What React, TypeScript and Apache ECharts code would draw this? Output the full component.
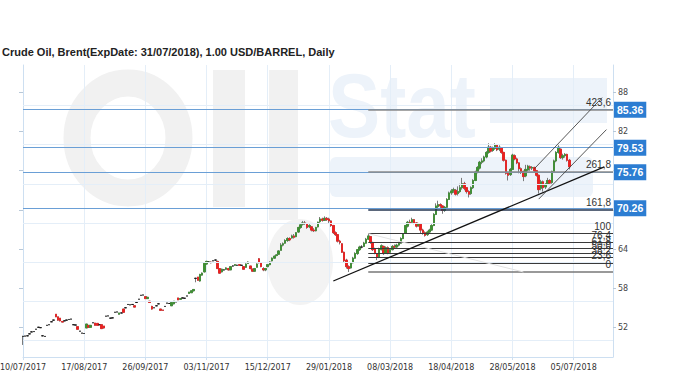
import { useEffect, useRef } from 'react';
import * as echarts from 'echarts';

const TITLE = 'Crude Oil, Brent(ExpDate: 31/07/2018), 1.00 USD/BARREL, Daily';

// x-axis label dates (one every BARS_PER_LABEL trading days)
const labelDates = [
  '10/07/2017', '17/08/2017', '26/09/2017', '03/11/2017', '15/12/2017',
  '29/01/2018', '08/03/2018', '18/04/2018', '28/05/2018', '05/07/2018',
];
const BARS_PER_LABEL = 28;
const CATEGORY_COUNT = 271;

// daily candles: [open, close, low, high]
const ohlc: number[][] = [
  [50.6, 50.6, 49.3, 50.7], [50.65, 50.65, 50.65, 50.65], [50.7, 50.7, 50.7, 50.7], [51.0, 51.0, 51.0, 51.0],
  [51.3, 51.3, 51.3, 51.3], [51.35, 51.35, 51.35, 51.35], [51.7, 51.7, 51.7, 51.7], [52.0, 52.0, 52.0, 52.0],
  [51.95, 51.95, 51.95, 51.95], [50.7, 50.7, 50.7, 50.7], [50.6, 50.6, 50.6, 50.6], [52.3, 52.3, 52.3, 52.3],
  [52.4, 52.4, 52.4, 52.4], [52.85, 52.85, 52.85, 52.85], [53.1, 53.1, 53.1, 53.1], [54.0, 53.6, 53.6, 54.0],
  [53.6, 53.1, 53.0, 53.6], [53.4, 53.0, 52.9, 53.4], [52.9, 52.8, 52.8, 52.9], [53.0, 53.0, 53.0, 53.0],
  [53.1, 53.1, 53.1, 53.1], [53.2, 53.2, 53.2, 53.2], [53.25, 53.25, 53.25, 53.25], [52.4, 52.4, 52.4, 52.4],
  [52.35, 52.35, 52.35, 52.35], [52.1, 51.7, 51.7, 52.1], [51.4, 51.4, 51.4, 51.4], [51.1, 51.1, 51.1, 51.1],
  [51.05, 51.05, 51.05, 51.05], [51.9, 52.5, 51.9, 52.5], [52.3, 52.0, 51.9, 52.3], [52.0, 52.3, 52.0, 52.3],
  [52.7, 52.7, 52.7, 52.7], [52.65, 52.3, 52.3, 52.65], [52.6, 52.3, 52.3, 52.6], [52.4, 52.4, 52.4, 52.4],
  [52.4, 51.8, 51.8, 52.4], [52.2, 51.9, 51.8, 52.2], [53.7, 53.7, 53.7, 53.7], [53.75, 53.75, 53.75, 53.75],
  [53.4, 53.4, 53.4, 53.4], [53.45, 53.45, 53.45, 53.45], [54.3, 54.3, 54.3, 54.3], [54.35, 54.35, 54.35, 54.35],
  [54.0, 54.2, 54.0, 54.2], [54.2, 54.2, 54.2, 54.2], [54.8, 54.3, 54.3, 54.8], [55.0, 55.0, 55.0, 55.0],
  [55.5, 55.5, 55.5, 55.5], [55.45, 55.45, 55.45, 55.45], [55.5, 55.5, 55.5, 55.5], [55.3, 55.1, 55.1, 55.3],
  [55.8, 55.8, 55.8, 55.8], [56.3, 56.3, 56.3, 56.3], [56.9, 56.9, 56.9, 56.9], [56.95, 56.95, 56.95, 56.95],
  [56.7, 56.4, 56.4, 56.7], [56.4, 56.6, 56.4, 56.6], [56.0, 55.8, 55.8, 56.0], [55.2, 54.8, 54.7, 55.3],
  [55.0, 55.0, 55.0, 55.0], [55.3, 55.3, 55.3, 55.3], [55.6, 55.6, 55.6, 55.6], [54.8, 54.6, 54.6, 54.8],
  [54.65, 54.6, 54.6, 54.65], [55.2, 55.2, 55.2, 55.2], [55.7, 55.7, 55.7, 55.7], [55.65, 55.65, 55.65, 55.65],
  [55.3, 55.8, 55.3, 55.8], [55.6, 56.0, 55.5, 56.0], [55.9, 55.9, 55.9, 55.9], [56.5, 56.2, 56.2, 56.5],
  [56.3, 56.4, 56.2, 56.5], [56.5, 56.5, 56.5, 56.5], [56.45, 56.45, 56.45, 56.45], [56.8, 56.8, 56.8, 56.8],
  [57.2, 57.4, 57.2, 57.4], [57.3, 57.6, 57.3, 57.6], [57.6, 57.8, 57.5, 57.8], [59.5, 59.5, 58.9, 59.6],
  [59.7, 59.2, 59.2, 59.7], [59.1, 60.1, 59.0, 60.2], [60.0, 60.3, 59.9, 60.4], [60.5, 61.8, 60.4, 61.9],
  [61.7, 62.1, 61.6, 62.2], [62.0, 62.0, 61.9, 62.1], [62.0, 61.9, 61.8, 62.1], [62.2, 62.2, 62.2, 62.2],
  [62.3, 62.3, 62.2, 62.4], [62.1, 61.0, 61.0, 62.2], [61.0, 60.3, 60.2, 61.0], [60.5, 60.9, 60.4, 61.0],
  [60.8, 60.8, 60.7, 60.9], [60.9, 61.1, 60.8, 61.2], [61.0, 60.8, 60.7, 61.1], [60.8, 61.3, 60.8, 61.4],
  [61.4, 61.4, 61.3, 61.5], [61.5, 61.6, 61.4, 61.7], [61.5, 61.5, 61.4, 61.6], [61.6, 61.5, 61.4, 61.7],
  [61.5, 61.5, 61.5, 61.5], [61.3, 60.9, 60.9, 61.3], [61.2, 61.7, 61.1, 61.8], [61.8, 62.0, 61.7, 62.1],
  [61.4, 61.0, 60.9, 61.4], [60.9, 60.6, 60.5, 61.0], [60.6, 61.0, 60.5, 61.1], [61.2, 61.7, 61.2, 61.8],
  [62.5, 61.9, 61.8, 62.6], [61.9, 61.3, 61.2, 62.0], [61.0, 60.8, 60.6, 61.2], [60.8, 61.0, 60.6, 61.1],
  [61.3, 61.6, 61.2, 61.7], [61.6, 62.0, 61.5, 62.1], [62.2, 62.6, 62.1, 62.7], [62.6, 62.9, 62.5, 63.0],
  [63.0, 63.1, 62.9, 63.2], [63.2, 63.7, 63.1, 63.8], [63.8, 64.6, 63.8, 64.9], [64.6, 64.8, 64.4, 65.0],
  [64.9, 65.3, 64.8, 65.5], [65.3, 65.6, 65.1, 65.8], [65.6, 65.4, 65.2, 65.8], [65.7, 66.0, 65.6, 66.2],
  [66.0, 65.8, 65.6, 66.3], [65.9, 66.5, 65.8, 66.6], [66.6, 67.3, 66.5, 67.4], [67.3, 67.7, 67.1, 67.9],
  [67.8, 68.0, 67.6, 68.3], [68.0, 67.9, 67.7, 68.3], [67.9, 67.3, 67.1, 68.0], [67.4, 67.6, 67.2, 67.8],
  [67.4, 66.9, 66.7, 67.5], [66.9, 66.8, 66.6, 67.2], [66.8, 67.3, 66.7, 67.4], [67.4, 68.1, 67.3, 68.2],
  [68.2, 68.6, 68.0, 68.9], [68.6, 68.4, 68.2, 68.8], [68.4, 68.7, 68.3, 69.0], [68.7, 68.5, 68.3, 68.9],
  [68.6, 68.3, 68.0, 68.8], [68.3, 67.6, 67.4, 68.4], [67.6, 66.5, 66.3, 67.7], [66.5, 66.2, 66.0, 66.7],
  [66.2, 65.2, 65.0, 66.3], [65.2, 65.0, 64.7, 65.4], [64.8, 63.5, 63.4, 64.9], [63.5, 62.2, 62.0, 63.6],
  [62.3, 61.3, 61.0, 62.5], [61.3, 61.0, 60.48, 61.5], [61.1, 61.8, 61.0, 62.0], [61.9, 62.6, 61.8, 62.8],
  [62.6, 63.3, 62.5, 63.5], [63.3, 63.9, 63.1, 64.0], [63.9, 64.3, 63.7, 64.5], [64.3, 64.3, 64.1, 64.6],
  [64.4, 64.9, 64.3, 65.1], [64.9, 65.5, 64.8, 65.7], [65.5, 66.0, 65.4, 66.36], [65.9, 65.0, 64.8, 66.0],
  [65.0, 63.9, 63.7, 65.1], [64.0, 63.4, 63.2, 64.2], [63.3, 62.7, 62.3, 63.4], [62.8, 64.0, 62.6, 64.2],
  [63.9, 64.5, 63.8, 64.7], [64.4, 63.3, 63.1, 64.5], [63.4, 64.2, 63.3, 64.4], [64.2, 63.4, 63.2, 64.4],
  [63.5, 63.9, 63.3, 64.1], [63.9, 64.4, 63.8, 64.6], [64.4, 64.3, 64.1, 64.7], [64.3, 64.6, 64.2, 64.8],
  [64.6, 64.9, 64.4, 65.1], [64.9, 65.6, 64.8, 65.8], [65.6, 66.3, 65.5, 66.4], [66.4, 67.6, 66.3, 67.7],
  [67.5, 68.1, 67.3, 68.3], [68.1, 68.0, 67.8, 68.5], [68.1, 68.5, 67.9, 68.8], [68.5, 68.0, 67.8, 68.6],
  [68.0, 67.5, 67.3, 68.1], [67.6, 67.8, 67.4, 68.0], [67.8, 66.9, 66.3, 67.9], [66.9, 66.5, 66.2, 67.1],
  [66.5, 66.1, 65.9, 66.7], [66.2, 66.6, 66.0, 66.8], [66.6, 66.9, 66.4, 67.1], [66.9, 67.6, 66.8, 67.8],
  [67.6, 69.3, 67.5, 69.5], [69.3, 70.6, 69.2, 71.0], [70.5, 70.8, 70.1, 71.4], [70.8, 70.6, 70.2, 71.0],
  [70.6, 69.9, 69.4, 70.7], [69.9, 70.4, 69.7, 70.6], [70.4, 71.6, 70.3, 71.8], [71.6, 72.6, 71.5, 72.8],
  [72.6, 72.9, 72.3, 73.2], [72.9, 73.1, 72.6, 73.4], [73.0, 72.4, 72.2, 73.2], [72.5, 72.8, 72.2, 73.6],
  [72.8, 73.4, 72.6, 74.0], [73.4, 74.0, 73.1, 74.9], [74.0, 73.3, 73.0, 74.3], [73.4, 72.8, 72.5, 73.5],
  [72.8, 72.4, 71.9, 73.0], [72.5, 73.4, 72.3, 73.6], [73.4, 74.5, 73.2, 74.7], [74.5, 75.8, 74.4, 76.0],
  [75.8, 76.5, 75.6, 76.7], [76.4, 77.3, 76.2, 77.5], [77.3, 77.5, 77.0, 77.9], [77.5, 78.1, 77.3, 78.3],
  [78.1, 78.8, 77.9, 79.0], [78.8, 79.6, 78.6, 80.2], [79.6, 79.0, 78.8, 79.8], [79.1, 79.5, 78.9, 79.7],
  [79.4, 79.9, 79.2, 80.2], [79.9, 79.2, 79.0, 80.1], [79.3, 79.6, 79.0, 79.9], [79.5, 78.8, 78.6, 79.6],
  [78.8, 77.6, 77.4, 78.9], [77.6, 75.6, 75.4, 77.7], [75.6, 75.3, 74.5, 75.8], [75.4, 76.2, 75.2, 76.4],
  [76.2, 78.4, 76.1, 78.6], [78.3, 77.8, 77.6, 78.5], [77.8, 77.2, 77.0, 78.0], [77.2, 76.3, 75.6, 77.3],
  [76.3, 75.9, 75.5, 76.5], [75.9, 75.1, 74.4, 76.0], [75.2, 76.2, 75.0, 76.9], [76.1, 76.7, 75.9, 76.9],
  [76.6, 76.4, 76.0, 76.8], [76.4, 76.5, 76.1, 76.7], [76.5, 76.0, 75.8, 76.6], [76.0, 75.3, 75.1, 76.1],
  [75.3, 73.1, 72.5, 75.4], [73.3, 74.3, 73.0, 74.6], [74.3, 73.4, 72.8, 74.5], [73.5, 73.9, 73.2, 74.1],
  [74.0, 74.5, 73.8, 74.9], [74.5, 74.1, 73.9, 74.7], [74.2, 75.9, 74.0, 76.0], [75.9, 77.5, 75.8, 77.7],
  [77.5, 78.8, 77.3, 79.0], [78.8, 79.6, 78.6, 79.9], [79.3, 78.0, 77.8, 79.4], [78.0, 78.3, 77.7, 78.6],
  [78.3, 78.5, 78.0, 78.7], [78.5, 77.6, 77.4, 78.6], [77.6, 76.6, 76.2, 77.8],
];

// value axis
const Y_MIN = 47.45;
const Y_MAX = 92.2;
const yTickValues = [52, 58, 64, 70, 76, 82, 88];
const yGridValues = [50, 56, 62, 68, 74, 80, 86];

// horizontal support/resistance levels (blue, labelled on the right)
const levelValues = [85.36, 79.53, 75.76, 70.26];

// Fibonacci retracement / extension
const fibRatios = [423.6, 261.8, 161.8, 100, 76.4, 61.8, 50, 38.2, 23.6, 0];
const fibLabels = ['423,6', '261,8', '161,8', '100', '76,4', '61,8', '50,0', '38,2', '23,6', '0'];
const FIB_LOW = 60.48;
const FIB_HIGH = 66.36;
const FIB_START = 158;
const FIB_DIAG_END = 229;

// trend lines: [[index, price], [index, price]]
const trendLine = [[142, 59.1], [266, 76.6]];
const channelUpper = [[234, 76.3], [265, 87.2]];
const channelLower = [[236, 71.65], [267, 82.3]];

const pad = (n: number) => (n < 10 ? '0' + n : '' + n);
function buildCategories(): string[] {
  const out: string[] = [];
  const parse = (s: string) => {
    const [d, m, y] = s.split('/').map(Number);
    return Date.UTC(y, m - 1, d);
  };
  const fmt = (t: number) => {
    const dt = new Date(t);
    return pad(dt.getUTCDate()) + '/' + pad(dt.getUTCMonth() + 1) + '/' + dt.getUTCFullYear();
  };
  for (let k = 0; k < labelDates.length; k++) {
    let t = parse(labelDates[k]);
    const n = k < labelDates.length - 1 ? BARS_PER_LABEL : CATEGORY_COUNT - out.length;
    for (let i = 0; i < n; i++) {
      out.push(fmt(t));
      do {
        t += 86400000;
      } while ([0, 6].includes(new Date(t).getUTCDay()));
    }
  }
  return out;
}

const GRID_COLOR = '#e4eef8';
const AXIS_COLOR = '#cddff1';
const BLUE_LINE = '#6a9fd6';
const BOX_BLUE = '#2c7dd2';
const UP = '#3d9132';
const DOWN = '#ee1f1f';
const LAST_INDEX = CATEGORY_COUNT - 1;

export default function App() {
  const ref = useRef<HTMLDivElement>(null);

  useEffect(() => {
    if (!ref.current) return;
    const chart = echarts.init(ref.current, null, { renderer: 'svg' });
    const categories = buildCategories();

    const wickData = ohlc.map((d) => [d[0], d[1], d[2], d[3]]);
    const bodyData = ohlc.map((d) => [d[0], d[1], Math.min(d[0], d[1]), Math.max(d[0], d[1])]);

    const gridLines = yGridValues.map((v) => [
      { coord: [0, v], lineStyle: { color: GRID_COLOR, width: 1, type: 'solid' }, label: { show: false } },
      { coord: [LAST_INDEX, v] },
    ]);

    const blueLines = levelValues.map((v) => [
      {
        coord: [0, v],
        lineStyle: { color: BLUE_LINE, width: 1, type: 'solid' },
        label: {
          show: true,
          position: 'end',
          distance: 1,
          formatter: v.toFixed(2),
          color: '#ffffff',
          backgroundColor: BOX_BLUE,
          padding: [3, 3, 2, 3],
          fontSize: 10.5,
          lineHeight: 11,
          fontWeight: 'bold',
          fontFamily: 'Liberation Sans',
        },
      },
      { coord: [LAST_INDEX, v] },
    ]);

    const fibLines = fibRatios.map((r, i) => {
      const v = FIB_LOW + (r / 100) * (FIB_HIGH - FIB_LOW);
      const ext = r > 100;
      return [
        {
          coord: [FIB_START, v],
          lineStyle: {
            color: r === 0 ? '#777777' : ext ? (r === 161.8 ? '#24344f' : '#8a8a8a') : '#3a3a3a',
            width: r === 0 ? 1.6 : ext ? 1.5 : 1.1,
            type: 'solid',
          },
          label: {
            show: true,
            position: 'insideEndTop',
            distance: 2,
            formatter: fibLabels[i],
            color: '#333333',
            fontSize: 10,
            fontFamily: 'Liberation Sans',
          },
        },
        { coord: [LAST_INDEX, v] },
      ];
    });

    const fibDiag = [
      { coord: [FIB_START, FIB_HIGH], lineStyle: { color: '#e2e2e2', width: 1, type: 'solid' }, label: { show: false } },
      { coord: [FIB_DIAG_END, FIB_LOW] },
    ];

    const trendLines = [
      [{ coord: trendLine[0], lineStyle: { color: '#111111', width: 1.3, type: 'solid' }, label: { show: false } }, { coord: trendLine[1] }],
      [{ coord: channelUpper[0], lineStyle: { color: '#444444', width: 0.9, type: 'solid' }, label: { show: false } }, { coord: channelUpper[1] }],
      [{ coord: channelLower[0], lineStyle: { color: '#444444', width: 0.9, type: 'solid' }, label: { show: false } }, { coord: channelLower[1] }],
    ];

    const wmGray = '#f1f1f1';
    const wmBlue = '#edf3fa';

    chart.setOption({
      animation: false,
      backgroundColor: '#ffffff',
      grid: { left: 23, right: 67, top: 65, bottom: 23, containLabel: false, outerBoundsMode: 'none' },
      graphic: {
        elements: [
          { type: 'ellipse', z: -10, silent: true, shape: { cx: 128, cy: 138, rx: 51, ry: 55 }, style: { fill: 'none', stroke: wmGray, lineWidth: 27 } },
          { type: 'rect', z: -10, silent: true, shape: { x: 213, y: 70, width: 32, height: 137 }, style: { fill: wmGray } },
          { type: 'rect', z: -10, silent: true, shape: { x: 269, y: 70, width: 29, height: 150 }, style: { fill: wmGray } },
          { type: 'ellipse', z: -10, silent: true, shape: { cx: 300, cy: 262, rx: 33, ry: 43 }, style: { fill: '#f3f3f3' } },
          {
            type: 'text', z: -10, silent: true, x: 328, y: 106, scaleX: 0.87,
            style: { text: 'Stat', fill: wmBlue, font: 'bold 90px "Liberation Sans"', verticalAlign: 'middle', align: 'left' },
          },
          { type: 'rect', z: -10, silent: true, shape: { x: 490, y: 78, width: 117, height: 45 }, style: { fill: wmBlue } },
          { type: 'rect', z: -10, silent: true, shape: { x: 330, y: 157, width: 263, height: 40, r: 6 }, style: { fill: wmBlue } },
          {
            type: 'text', z: 10, silent: true, x: 2, y: 52,
            style: { text: TITLE, fill: '#222222', font: 'bold 11px "Liberation Sans"', verticalAlign: 'middle', align: 'left' },
          },
        ],
      },
      xAxis: {
        type: 'category',
        data: categories,
        boundaryGap: false,
        axisLine: { show: true, lineStyle: { color: AXIS_COLOR, width: 1 } },
        axisTick: { show: true, interval: BARS_PER_LABEL - 1, length: 3, lineStyle: { color: AXIS_COLOR } },
        axisLabel: {
          interval: BARS_PER_LABEL - 1,
          color: '#333333',
          fontSize: 8,
          fontFamily: 'DejaVu Sans',
          margin: 6,
        },
        splitLine: { show: true, interval: BARS_PER_LABEL - 1, lineStyle: { color: GRID_COLOR, width: 1 } },
      },
      yAxis: [
        {
          type: 'value',
          position: 'right',
          min: Y_MIN,
          max: Y_MAX,
          scale: true,
          axisLine: { show: true, lineStyle: { color: AXIS_COLOR } },
          axisTick: { show: true, customValues: yTickValues, length: 3, lineStyle: { color: '#b8c8d8' } },
          axisLabel: { customValues: yTickValues, color: '#444444', fontSize: 8, fontFamily: 'DejaVu Sans', margin: 5 },
          splitLine: { show: false },
        },
        {
          type: 'value',
          position: 'left',
          min: Y_MIN,
          max: Y_MAX,
          scale: true,
          axisLine: { show: true, onZero: false, lineStyle: { color: AXIS_COLOR } },
          axisTick: { show: true, customValues: yTickValues, length: 4, lineStyle: { color: '#b8c8d8' } },
          axisLabel: { show: false, customValues: yTickValues },
          splitLine: { show: false },
        },
      ],
      series: [
        {
          name: 'grid',
          type: 'line',
          data: [],
          z: 1,
          silent: true,
          markLine: { silent: true, symbol: 'none', animation: false, data: gridLines },
        },
        {
          name: 'levels',
          type: 'line',
          data: [],
          z: 2,
          silent: true,
          markLine: { silent: true, symbol: 'none', animation: false, data: [...blueLines, ...fibLines, fibDiag] },
        },
        {
          name: 'wick',
          type: 'candlestick',
          data: wickData,
          z: 3,
          silent: true,
          barWidth: 2,
          itemStyle: {
            color: '#7a7a7a', color0: '#7a7a7a', borderColor: '#7a7a7a', borderColor0: '#7a7a7a',
            borderColorDoji: '#7a7a7a', borderWidth: 1,
          },
        },
        {
          name: 'body',
          type: 'candlestick',
          data: bodyData,
          z: 4,
          silent: true,
          barWidth: 2,
          itemStyle: {
            color: UP, color0: DOWN, borderColor: UP, borderColor0: DOWN,
            borderColorDoji: '#111111', borderWidth: 0.8,
          },
        },
        {
          name: 'trend',
          type: 'line',
          data: [],
          z: 5,
          silent: true,
          markLine: { silent: true, symbol: 'none', animation: false, data: trendLines },
        },
      ],
    });

    return () => chart.dispose();
  }, []);

  return (
    <div
      ref={ref}
      style={{ position: 'fixed', left: 0, top: 0, width: 680, height: 380, background: '#fff' }}
    />
  );
}
